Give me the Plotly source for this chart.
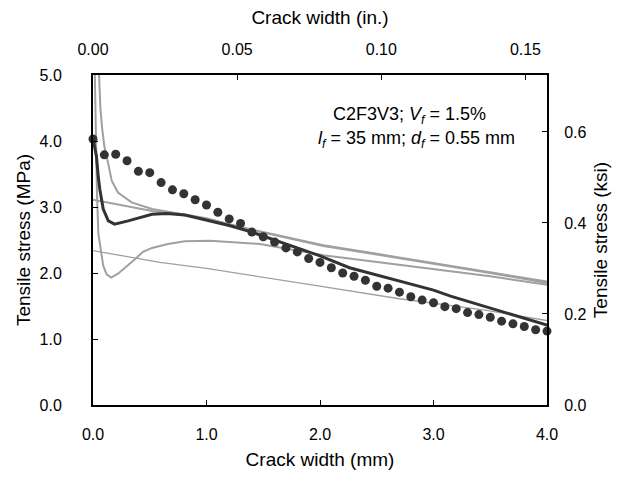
import plotly.graph_objects as go

# ---- data (crack width in mm, tensile stress in MPa) ----
dot_x = [round(0.1 * i, 1) for i in range(41)]
dot_y = [4.03, 3.79, 3.80, 3.70, 3.54, 3.52, 3.37, 3.26, 3.20, 3.11, 3.03,
         2.92, 2.82, 2.75, 2.62, 2.55, 2.47, 2.38, 2.32, 2.22, 2.16,
         2.08, 2.00, 1.95, 1.89, 1.80, 1.77, 1.71, 1.64, 1.59, 1.55,
         1.49, 1.46, 1.40, 1.37, 1.33, 1.27, 1.23, 1.19, 1.14, 1.12]

dark_x = [0.0, 0.03, 0.047, 0.06, 0.09, 0.135, 0.19, 0.31, 0.52, 0.65, 0.81, 1.0,
          1.2, 1.4, 1.7, 2.0, 2.26, 2.5, 2.75, 3.0, 3.15, 3.5, 3.75, 4.0]
dark_y = [4.04, 3.77, 3.45, 3.27, 2.97, 2.79, 2.74, 2.79, 2.89, 2.90, 2.88, 2.80,
          2.72, 2.62, 2.44, 2.26, 2.08, 1.97, 1.85, 1.74, 1.65, 1.47, 1.34, 1.21]

g1_x = [0.0, 0.22, 0.52, 0.7, 1.0, 1.4, 2.03, 2.5, 2.97, 3.5, 4.0]
g1_y = [3.11, 3.04, 2.94, 2.90, 2.82, 2.66, 2.42, 2.29, 2.16, 2.01, 1.87]

g2_x = [0.04, 0.05, 0.065, 0.08, 0.1, 0.135, 0.165, 0.22, 0.34, 0.52, 0.69,
        1.0, 1.4, 2.03, 2.5, 2.97, 3.5, 4.0]
g2_y = [5.6, 5.0, 4.5, 4.2, 3.92, 3.65, 3.40, 3.22, 3.07, 2.97, 2.92,
        2.83, 2.65, 2.41, 2.28, 2.15, 2.00, 1.85]

g3_x = [0.01, 0.02, 0.035, 0.047, 0.07, 0.09, 0.12, 0.16, 0.22, 0.30, 0.37, 0.44,
        0.52, 0.66, 0.81, 1.03, 1.47, 2.03, 2.5, 2.97, 3.5, 4.0]
g3_y = [5.6, 4.3, 3.2, 2.6, 2.3, 2.11, 1.98, 1.93, 1.99, 2.10, 2.21, 2.32,
        2.38, 2.44, 2.48, 2.49, 2.44, 2.27, 2.17, 2.07, 1.95, 1.82]

g4_x = [0.0, 0.59, 1.0, 1.38, 1.97, 2.70, 3.44, 4.0]
g4_y = [2.34, 2.16, 2.07, 1.97, 1.81, 1.61, 1.44, 1.28]

x_ticks_mm = [0.0, 1.0, 2.0, 3.0, 4.0]
y_ticks_mpa = [0.0, 1.0, 2.0, 3.0, 4.0, 5.0]
x_ticks_in = [0.00, 0.05, 0.10, 0.15]
y_ticks_ksi = [0.0, 0.2, 0.4, 0.6]

MM_PER_IN = 25.4
MPA_PER_KSI = 6.895

FONT = "Liberation Sans, Arial, sans-serif"
DARK = "#333333"
GRAY = "#a0a0a0"

fig = go.Figure()
fig.add_trace(go.Scatter(x=g4_x, y=g4_y, mode="lines", line=dict(color=GRAY, width=1.3), hoverinfo="skip"))
fig.add_trace(go.Scatter(x=g3_x, y=g3_y, mode="lines", line=dict(color=GRAY, width=2), hoverinfo="skip"))
fig.add_trace(go.Scatter(x=g1_x, y=g1_y, mode="lines", line=dict(color=GRAY, width=2), hoverinfo="skip"))
fig.add_trace(go.Scatter(x=g2_x, y=g2_y, mode="lines", line=dict(color=GRAY, width=2), hoverinfo="skip"))
fig.add_trace(go.Scatter(x=dark_x, y=dark_y, mode="lines", line=dict(color=DARK, width=3), hoverinfo="skip"))
fig.add_trace(go.Scatter(x=dot_x, y=dot_y, mode="markers", marker=dict(color=DARK, size=9), cliponaxis=False))
# secondary (imperial) axes carrier
fig.add_trace(go.Scatter(x=[v / MM_PER_IN for v in dot_x], y=[v / MPA_PER_KSI for v in dot_y],
                         xaxis="x2", yaxis="y2", mode="markers", marker=dict(opacity=0), hoverinfo="skip"))

axis_common = dict(showline=True, linecolor="black", linewidth=2, ticks="inside", ticklen=5,
                   tickcolor="black", tickwidth=1, showgrid=False, zeroline=False,
                   tickfont=dict(family=FONT, size=16, color="black"),
                   title_font=dict(family=FONT, size=19, color="black"))

fig.update_layout(
    width=621, height=479,
    margin=dict(l=93, r=74, t=75, b=72),
    paper_bgcolor="white", plot_bgcolor="white",
    showlegend=False,
    font=dict(family=FONT, color="black"),
    xaxis=dict(range=[0, 4], tickvals=x_ticks_mm, tickformat=".1f", ticklabelstandoff=14,
               title=dict(text="Crack width (mm)", standoff=10), **axis_common),
    yaxis=dict(range=[0, 5], tickvals=y_ticks_mpa, tickformat=".1f", ticklabelstandoff=26,
               title=dict(text="Tensile stress (MPa)", standoff=4), **axis_common),
    xaxis2=dict(range=[0, 4 / MM_PER_IN], tickvals=x_ticks_in, tickformat=".2f", overlaying="x",
                side="top", anchor="y", ticklabelstandoff=12,
                title=dict(text="Crack width (in.)", standoff=11), **axis_common),
    yaxis2=dict(range=[0, 5 / MPA_PER_KSI], tickvals=y_ticks_ksi, tickformat=".1f", overlaying="y",
                side="right", anchor="x", ticklabelstandoff=12,
                title=dict(text="Tensile stress (ksi)", standoff=8), **axis_common),
    annotations=[
        dict(x=3.48, y=4.39, xref="x", yref="y", xanchor="right", yanchor="middle", showarrow=False,
             text="C2F3V3; <i>V</i><sub><i>f</i></sub> = 1.5%",
             font=dict(family=FONT, size=18, color="black")),
        dict(x=3.735, y=4.03, xref="x", yref="y", xanchor="right", yanchor="middle", showarrow=False,
             text="<i>l</i><sub><i>f</i></sub> = 35 mm; <i>d</i><sub><i>f</i></sub> = 0.55 mm",
             font=dict(family=FONT, size=18, color="black")),
    ],
)

fig.write_html("out.html")
